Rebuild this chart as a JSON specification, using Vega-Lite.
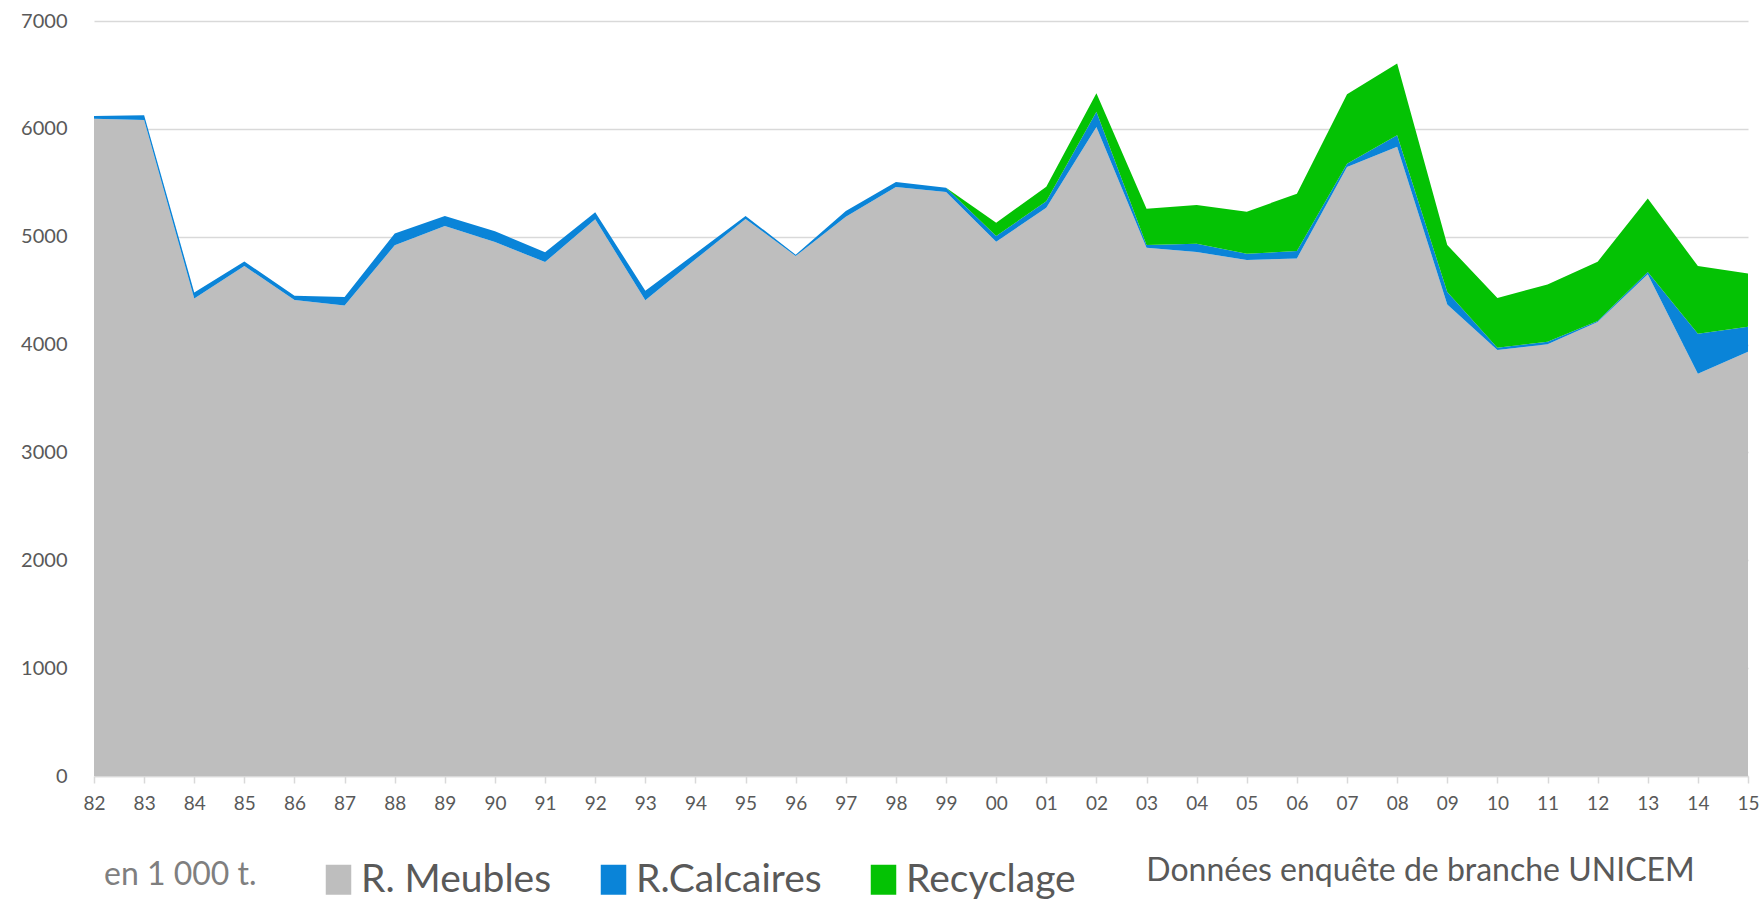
{
  "$schema": "https://vega.github.io/schema/vega-lite/v6.json",
  "width": 1654,
  "height": 755,
  "autosize": "none",
  "padding": {"left": 94, "top": 21, "right": 14, "bottom": 127},
  "background": "white",
  "config": {"view": {"stroke": null}, "font": "Lato, sans-serif"},
  "data": {"values": [
    {"year": 1982, "serie": "R. Meubles", "v": 6094}, {"year": 1982, "serie": "R.Calcaires", "v": 26}, {"year": 1982, "serie": "Recyclage", "v": 0},
    {"year": 1983, "serie": "R. Meubles", "v": 6083}, {"year": 1983, "serie": "R.Calcaires", "v": 43}, {"year": 1983, "serie": "Recyclage", "v": 0},
    {"year": 1984, "serie": "R. Meubles", "v": 4428}, {"year": 1984, "serie": "R.Calcaires", "v": 55}, {"year": 1984, "serie": "Recyclage", "v": 0},
    {"year": 1985, "serie": "R. Meubles", "v": 4728}, {"year": 1985, "serie": "R.Calcaires", "v": 43}, {"year": 1985, "serie": "Recyclage", "v": 0},
    {"year": 1986, "serie": "R. Meubles", "v": 4413}, {"year": 1986, "serie": "R.Calcaires", "v": 40}, {"year": 1986, "serie": "Recyclage", "v": 0},
    {"year": 1987, "serie": "R. Meubles", "v": 4363}, {"year": 1987, "serie": "R.Calcaires", "v": 78}, {"year": 1987, "serie": "Recyclage", "v": 0},
    {"year": 1988, "serie": "R. Meubles", "v": 4920}, {"year": 1988, "serie": "R.Calcaires", "v": 110}, {"year": 1988, "serie": "Recyclage", "v": 0},
    {"year": 1989, "serie": "R. Meubles", "v": 5099}, {"year": 1989, "serie": "R.Calcaires", "v": 93}, {"year": 1989, "serie": "Recyclage", "v": 0},
    {"year": 1990, "serie": "R. Meubles", "v": 4951}, {"year": 1990, "serie": "R.Calcaires", "v": 100}, {"year": 1990, "serie": "Recyclage", "v": 0},
    {"year": 1991, "serie": "R. Meubles", "v": 4765}, {"year": 1991, "serie": "R.Calcaires", "v": 90}, {"year": 1991, "serie": "Recyclage", "v": 0},
    {"year": 1992, "serie": "R. Meubles", "v": 5161}, {"year": 1992, "serie": "R.Calcaires", "v": 65}, {"year": 1992, "serie": "Recyclage", "v": 0},
    {"year": 1993, "serie": "R. Meubles", "v": 4410}, {"year": 1993, "serie": "R.Calcaires", "v": 90}, {"year": 1993, "serie": "Recyclage", "v": 0},
    {"year": 1994, "serie": "R. Meubles", "v": 4790}, {"year": 1994, "serie": "R.Calcaires", "v": 55}, {"year": 1994, "serie": "Recyclage", "v": 0},
    {"year": 1995, "serie": "R. Meubles", "v": 5165}, {"year": 1995, "serie": "R.Calcaires", "v": 28}, {"year": 1995, "serie": "Recyclage", "v": 0},
    {"year": 1996, "serie": "R. Meubles", "v": 4821}, {"year": 1996, "serie": "R.Calcaires", "v": 12}, {"year": 1996, "serie": "Recyclage", "v": 0},
    {"year": 1997, "serie": "R. Meubles", "v": 5185}, {"year": 1997, "serie": "R.Calcaires", "v": 53}, {"year": 1997, "serie": "Recyclage", "v": 0},
    {"year": 1998, "serie": "R. Meubles", "v": 5461}, {"year": 1998, "serie": "R.Calcaires", "v": 46}, {"year": 1998, "serie": "Recyclage", "v": 0},
    {"year": 1999, "serie": "R. Meubles", "v": 5414}, {"year": 1999, "serie": "R.Calcaires", "v": 40}, {"year": 1999, "serie": "Recyclage", "v": 0},
    {"year": 2000, "serie": "R. Meubles", "v": 4954}, {"year": 2000, "serie": "R.Calcaires", "v": 52}, {"year": 2000, "serie": "Recyclage", "v": 124},
    {"year": 2001, "serie": "R. Meubles", "v": 5269}, {"year": 2001, "serie": "R.Calcaires", "v": 59}, {"year": 2001, "serie": "Recyclage", "v": 136},
    {"year": 2002, "serie": "R. Meubles", "v": 6017}, {"year": 2002, "serie": "R.Calcaires", "v": 142}, {"year": 2002, "serie": "Recyclage", "v": 170},
    {"year": 2003, "serie": "R. Meubles", "v": 4898}, {"year": 2003, "serie": "R.Calcaires", "v": 25}, {"year": 2003, "serie": "Recyclage", "v": 337},
    {"year": 2004, "serie": "R. Meubles", "v": 4858}, {"year": 2004, "serie": "R.Calcaires", "v": 77}, {"year": 2004, "serie": "Recyclage", "v": 359},
    {"year": 2005, "serie": "R. Meubles", "v": 4784}, {"year": 2005, "serie": "R.Calcaires", "v": 58}, {"year": 2005, "serie": "Recyclage", "v": 390},
    {"year": 2006, "serie": "R. Meubles", "v": 4799}, {"year": 2006, "serie": "R.Calcaires", "v": 68}, {"year": 2006, "serie": "Recyclage", "v": 532},
    {"year": 2007, "serie": "R. Meubles", "v": 5646}, {"year": 2007, "serie": "R.Calcaires", "v": 31}, {"year": 2007, "serie": "Recyclage", "v": 643},
    {"year": 2008, "serie": "R. Meubles", "v": 5835}, {"year": 2008, "serie": "R.Calcaires", "v": 105}, {"year": 2008, "serie": "Recyclage", "v": 667},
    {"year": 2009, "serie": "R. Meubles", "v": 4372}, {"year": 2009, "serie": "R.Calcaires", "v": 115}, {"year": 2009, "serie": "Recyclage", "v": 436},
    {"year": 2010, "serie": "R. Meubles", "v": 3949}, {"year": 2010, "serie": "R.Calcaires", "v": 22}, {"year": 2010, "serie": "Recyclage", "v": 460},
    {"year": 2011, "serie": "R. Meubles", "v": 4002}, {"year": 2011, "serie": "R.Calcaires", "v": 24}, {"year": 2011, "serie": "Recyclage", "v": 532},
    {"year": 2012, "serie": "R. Meubles", "v": 4209}, {"year": 2012, "serie": "R.Calcaires", "v": 9}, {"year": 2012, "serie": "Recyclage", "v": 550},
    {"year": 2013, "serie": "R. Meubles", "v": 4651}, {"year": 2013, "serie": "R.Calcaires", "v": 21}, {"year": 2013, "serie": "Recyclage", "v": 683},
    {"year": 2014, "serie": "R. Meubles", "v": 3729}, {"year": 2014, "serie": "R.Calcaires", "v": 371}, {"year": 2014, "serie": "Recyclage", "v": 628},
    {"year": 2015, "serie": "R. Meubles", "v": 3933}, {"year": 2015, "serie": "R.Calcaires", "v": 232}, {"year": 2015, "serie": "Recyclage", "v": 495}
  ]},
  "mark": {"type": "area", "interpolate": "linear", "opacity": 1},
  "encoding": {
    "x": {
      "field": "year", "type": "quantitative",
      "scale": {"domain": [1982, 2015], "nice": false, "zero": false},
      "axis": {
        "values": [1982,1983,1984,1985,1986,1987,1988,1989,1990,1991,1992,1993,1994,1995,1996,1997,1998,1999,2000,2001,2002,2003,2004,2005,2006,2007,2008,2009,2010,2011,2012,2013,2014,2015],
        "format": "d",
        "labelExpr": "substring(datum.label, 2)",
        "grid": false,
        "domainColor": "#D9D9D9", "domainWidth": 1.5,
        "tickColor": "#D9D9D9", "tickSize": 7, "tickWidth": 1.5,
        "labelFontSize": 19, "labelColor": "#595959", "labelPadding": 11, "labelFlush": false,
        "labelOverlap": false,
        "title": "Données enquête de branche UNICEM",
        "titleX": 1326, "titleY": 94, "titleAlign": "center", "titleBaseline": "middle",
        "titleFontSize": 32, "titleFontWeight": "normal", "titleColor": "#595959"
      }
    },
    "y": {
      "field": "v", "type": "quantitative", "stack": "zero",
      "scale": {"domain": [0, 7000], "nice": false},
      "axis": {
        "values": [0,1000,2000,3000,4000,5000,6000,7000],
        "format": "d",
        "domain": false, "ticks": false,
        "gridColor": "#D9D9D9", "gridWidth": 1.5,
        "labelFontSize": 20, "labelColor": "#595959", "labelPadding": 27,
        "title": null
      }
    },
    "color": {
      "field": "serie", "type": "nominal",
      "scale": {"domain": ["R. Meubles", "R.Calcaires", "Recyclage"], "range": ["#BEBEBE", "#0A84D8", "#04C204"]},
      "legend": {
        "orient": "none", "legendX": 10, "legendY": 839,
        "direction": "horizontal",
        "title": "en 1 000 t.", "titleOrient": "left",
        "titleAnchor": "start", "titleBaseline": "top",
        "titleFontSize": 32, "titleFontWeight": "normal", "titleColor": "#7F7F7F",
        "titlePadding": 62, "titleLimit": 400,
        "symbolType": "M-0.85,-1H0.85V1H-0.85Z", "symbolSize": 900, "symbolStrokeWidth": 0, "symbolOpacity": 1,
        "labelFontSize": 39, "labelColor": "#595959", "labelOffset": 3, "labelLimit": 400,
        "columnPadding": 42
      }
    },
    "order": {"field": "serie", "sort": "ascending"}
  }
}
